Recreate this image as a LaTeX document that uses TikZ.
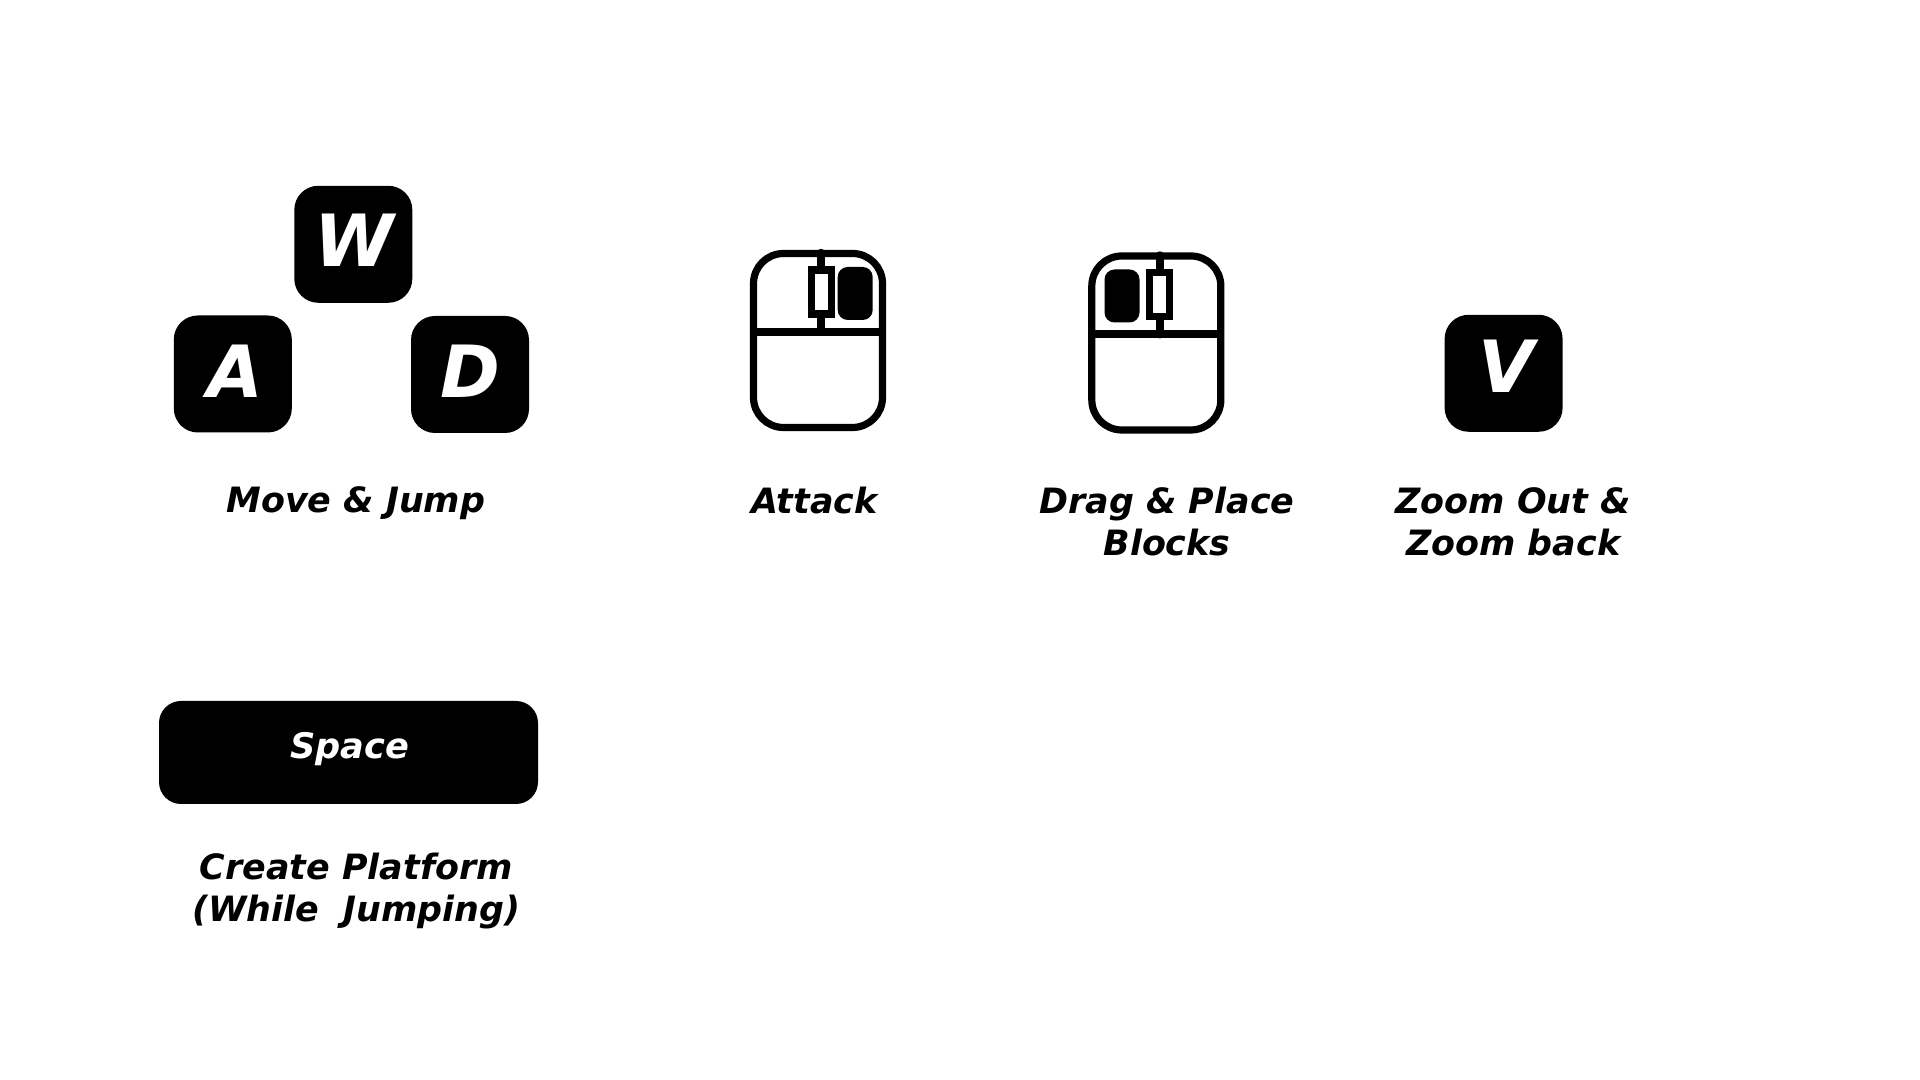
\documentclass[tikz,border=0pt]{standalone}
\usepackage{fontspec}
\setmainfont{DejaVu Sans}
\usetikzlibrary{positioning, calc}

\begin{document}
\begin{tikzpicture}[
keynode/.style={rectangle, fill=black, rounded corners=0.24cm, minimum width=1.18cm, minimum height=1.17cm, inner sep=0pt},
spacenode/.style={keynode, rounded corners=0.22cm, minimum width=3.79cm, minimum height=1.03cm},
keyletter/.style={text=white, inner sep=0pt, font=\fontsize{20.5pt}{24pt}\selectfont\bfseries\itshape},
spaceletter/.style={text=white, inner sep=0pt, font=\fontsize{10pt}{12pt}\selectfont\bfseries\itshape},
caption/.style={align=center, inner sep=0pt, font=\fontsize{9.92pt}{11.9pt}\selectfont\bfseries\itshape},
bodynode/.style={rectangle, draw=black, line width=0.072cm, rounded corners=0.3cm, minimum width=1.29cm, minimum height=1.74cm, inner sep=0pt},
wheelnode/.style={rectangle, draw=black, fill=white, line width=0.072cm, minimum width=0.2cm, minimum height=0.44cm, inner sep=0pt},
buttonnode/.style={rectangle, fill=black, rounded corners=0.1cm, minimum width=0.35cm, minimum height=0.53cm, inner sep=0pt},
bar/.style={line width=0.08cm, line cap=round},
]
\useasboundingbox (0,0) rectangle (19.2,10.8);
%keys
\node[keynode](w) at (3.533, 8.357) {};
\node[keynode](a) at (2.328, 7.06) {};
\node[keynode](d) at (4.70, 7.055) {};
\node[keynode](v) at (15.036, 7.067) {};
\node[spacenode](space) at (3.485, 3.275) {};
\node[keyletter](wtext) at (3.543, 8.4) {W};
\node[keyletter](atext) at (2.357, 7.09) {A};
\node[keyletter](dtext) at (4.707, 7.085) {D};
\node[keyletter](vtext) at (15.064, 7.133) {V};
\node[spaceletter](spacetext) at (3.495, 3.31) {Space};
%mouse icons
\foreach \m/\x/\y/\bx in {ml/8.18/7.395/0.372, mr/11.563/7.37/-0.343}{
\node[bodynode](\m body) at (\x, \y) {};
\node[buttonnode](\m btn) at (\x+\bx, \y+0.47) {};
\coordinate (\m top) at (\x+0.032, \y+0.877);
\coordinate (\m mid) at (\x+0.032, \y+0.085);
\draw[line width=0.08cm] (\m body.west |- \m mid) -- (\m body.east |- \m mid);
\node[wheelnode](\m wheel) at (\x+0.032, \y+0.485) {};
\draw[bar] (\m top) -- (\m wheel.north);
\draw[bar] (\m wheel.south) -- (\m mid);
}
%captions
\node[caption](move) at (3.558, 5.768) {Move \& Jump};
\node[caption](attack) at (8.145, 5.795) {Attack};
\node[caption](drag) at (11.67, 5.585) {Drag \& Place\\Blocks};
\node[caption](zoom) at (15.132, 5.585) {Zoom Out \&\\Zoom back};
\node[caption](create) at (3.563, 1.892) {Create Platform\\(While\ \ Jumping)};
\end{tikzpicture}
\end{document}
